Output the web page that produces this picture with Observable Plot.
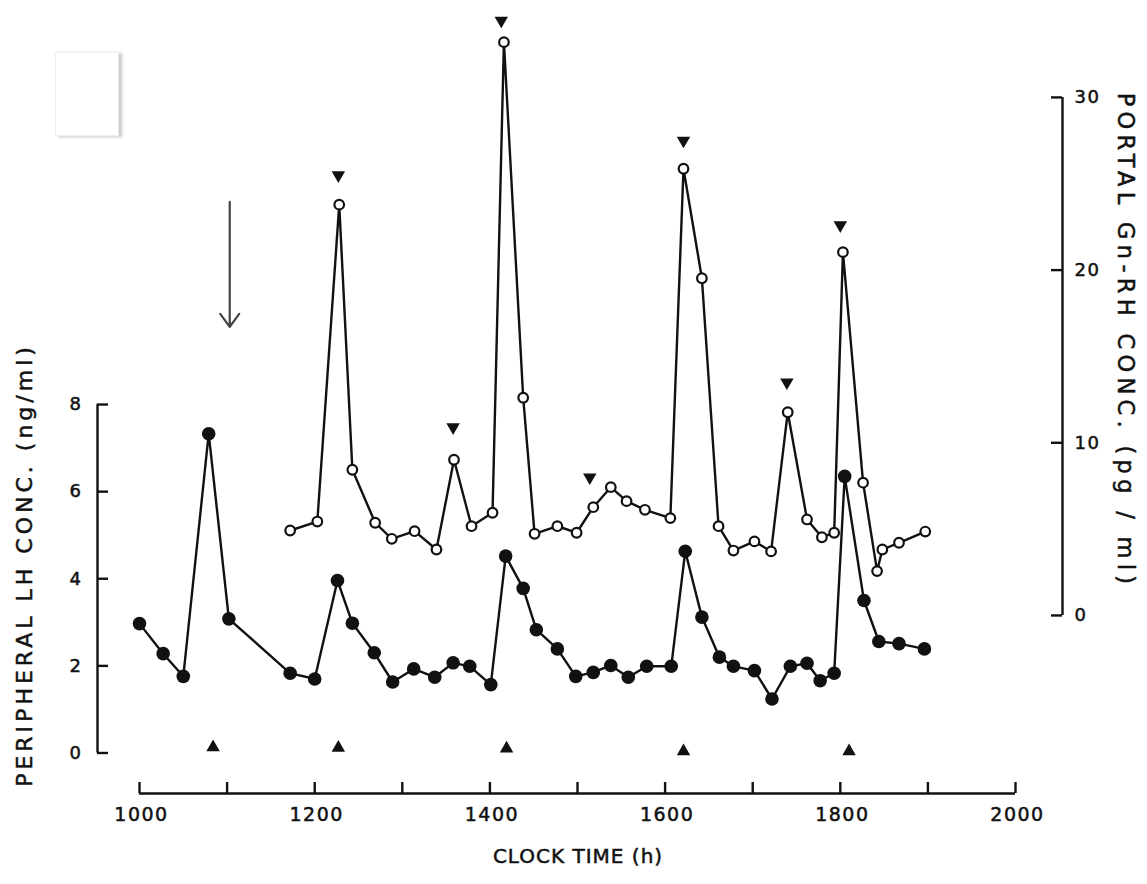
<!DOCTYPE html>
<html>
<head>
<meta charset="utf-8">
<script src="https://cdn.jsdelivr.net/npm/d3@7"></script>
<script src="https://cdn.jsdelivr.net/npm/@observablehq/plot@0.6"></script>
<style>
  html, body { margin: 0; padding: 0; background: #fff; }
  #chart { position: relative; width: 1147px; height: 884px; }
  #chart svg { display: block; }
  .ghost { position: absolute; left: 55px; top: 52px; width: 62px; height: 82px;
           border: 1px solid #f0f0f0; box-shadow: 3px 1px 3px rgba(0,0,0,0.22); background: #fff; }
</style>
</head>
<body>
<div id="chart"><div class="ghost"></div></div>
<script>
// ---- data (clock time in decimal hours) ----
const lhTime = [10.00, 10.27, 10.50, 10.79, 11.02, 11.72, 12.00, 12.26, 12.43, 12.68, 12.89, 13.13, 13.37, 13.58,
                13.77, 14.01, 14.18, 14.38, 14.53, 14.77, 14.98, 15.18, 15.38, 15.58, 15.79, 16.07, 16.23, 16.42,
                16.62, 16.78, 17.02, 17.22, 17.43, 17.62, 17.77, 17.93, 18.05, 18.27, 18.44, 18.67, 18.96];
const lhConc = [2.97, 2.28, 1.76, 7.33, 3.08, 1.83, 1.70, 3.96, 2.98, 2.30, 1.63, 1.93, 1.74, 2.07,
                1.99, 1.57, 4.52, 3.78, 2.83, 2.39, 1.76, 1.85, 2.01, 1.74, 1.99, 1.99, 4.63, 3.12,
                2.20, 1.99, 1.89, 1.24, 1.99, 2.06, 1.66, 1.83, 6.35, 3.50, 2.56, 2.51, 2.39];

const gnrhTime = [11.72, 12.03, 12.28, 12.43, 12.69, 12.88, 13.14, 13.39, 13.59, 13.79, 14.03, 14.16, 14.38,
                  14.51, 14.77, 14.99, 15.18, 15.38, 15.56, 15.77, 16.06, 16.21, 16.42, 16.61, 16.78, 17.02,
                  17.21, 17.40, 17.62, 17.79, 17.93, 18.03, 18.26, 18.42, 18.48, 18.67, 18.97];
const gnrhConc = [4.92, 5.44, 23.79, 8.44, 5.37, 4.44, 4.88, 3.82, 9.02, 5.17, 5.95, 33.20, 12.61,
                  4.73, 5.17, 4.79, 6.27, 7.43, 6.62, 6.12, 5.64, 25.87, 19.53, 5.17, 3.76, 4.29,
                  3.71, 11.77, 5.56, 4.53, 4.79, 21.04, 7.69, 2.57, 3.82, 4.21, 4.86];

// pulse markers
const lhPulseTime  = [10.84, 12.27, 14.19, 16.21, 18.10];
const lhPulseLevel = [0.13, 0.12, 0.10, 0.04, 0.04];           // ng/ml
const gnrhPulseTime  = [12.27, 13.58, 14.13, 15.14, 16.21, 17.39, 18.00];
const gnrhPulseLevel = [25.5, 10.9, 34.45, 8.0, 27.5, 13.5, 22.6]; // pg/ml

// arrow annotation (time, from, to in ng/ml units)
const arrowTime = [11.03];
const arrowFrom = [12.65];
const arrowTo   = [9.78];

// axes
const xTickHours  = [10, 11, 12, 13, 14, 15, 16, 17, 18, 19, 20];
const xLabelHours = [10, 12, 14, 16, 18, 20];
const lhTicks   = [0, 2, 4, 6, 8];
const gnrhTicks = [0, 10, 20, 30];

const titleX = "CLOCK TIME (h)";
const titleLeft = "PERIPHERAL LH CONC. (ng/ml)";
const titleRight = "PORTAL Gn-RH CONC. (pg / ml)";

// ---- scales ----
const xDomain = [9.5205, 20.5365];
const yDomain = [-0.930, 17.275];
const pxPerHour = 87.6, pxPerLH = 43.56;
const gnrhToLH = d3.scaleLinear().domain([0, 30]).range([3.157, 15.05]);
const tickX = 11 / pxPerHour, tickY = 11 / pxPerLH;

const lhData = lhTime.map((t, i) => ({t, v: lhConc[i]}));
const gnData = gnrhTime.map((t, i) => ({t, v: gnrhToLH(gnrhConc[i])}));
const lhPulse = lhPulseTime.map((t, i) => ({t, v: lhPulseLevel[i]}));
const gnPulse = gnrhPulseTime.map((t, i) => ({t, v: gnrhToLH(gnrhPulseLevel[i])}));
const arrows = arrowTime.map((t, i) => ({t, a: arrowFrom[i], b: arrowTo[i]}));

const ink = "#111";
const lw = 2.4;

const chart = Plot.plot({
  width: 1147, height: 884,
  marginLeft: 97, marginRight: 85, marginTop: 0, marginBottom: 91,
  x: {domain: xDomain},
  y: {domain: yDomain},
  style: {fontFamily: "'DejaVu Sans', sans-serif", background: "#fff", color: ink},
  marks: [
    // axis lines
    Plot.ruleY([yDomain[0]], {x1: xTickHours[0], x2: xTickHours[xTickHours.length - 1], stroke: ink, strokeWidth: lw}),
    Plot.ruleX([xDomain[0]], {y1: lhTicks[0], y2: lhTicks[lhTicks.length - 1], stroke: ink, strokeWidth: lw}),
    Plot.ruleX([xDomain[1]], {y1: gnrhToLH(gnrhTicks[0]), y2: gnrhToLH(gnrhTicks[gnrhTicks.length - 1]), stroke: ink, strokeWidth: lw}),
    // inward ticks
    Plot.ruleX(xTickHours, {y1: yDomain[0], y2: yDomain[0] + tickY, stroke: ink, strokeWidth: lw}),
    Plot.ruleY(lhTicks, {x1: xDomain[0], x2: xDomain[0] + tickX, stroke: ink, strokeWidth: lw}),
    Plot.ruleY(gnrhTicks.map(gnrhToLH), {x1: xDomain[1] - tickX, x2: xDomain[1], stroke: ink, strokeWidth: lw}),
    // tick labels
    Plot.axisX({anchor: "bottom", ticks: xLabelHours, tickFormat: d => String(d * 100), tickSize: 0, tickPadding: 14, fontSize: 19, dx: 2, label: null}),
    Plot.axisY({anchor: "left", ticks: lhTicks, tickFormat: d => String(d), tickSize: 0, tickPadding: 15, fontSize: 18, label: null}),
    Plot.axisY({anchor: "right", ticks: gnrhTicks.map(gnrhToLH), tickFormat: d => String(Math.round(gnrhToLH.invert(d))), tickSize: 0, tickPadding: 12, fontSize: 18, label: null}),
    // titles
    Plot.text([titleX], {text: d => d, frameAnchor: "bottom", textAnchor: "middle", dx: -2, dy: 69, fontSize: 20, fill: ink}),
    Plot.text([titleLeft], {text: d => d, frameAnchor: "left", textAnchor: "middle", dx: -73, dy: 168, rotate: -90, fontSize: 22, fill: ink}),
    Plot.text([titleRight], {text: d => d, frameAnchor: "right", textAnchor: "middle", dx: 63, dy: -56, rotate: 90, fontSize: 22.5, fill: ink}),
    // arrow
    Plot.arrow(arrows, {x1: "t", x2: "t", y1: "a", y2: "b", stroke: "#444", strokeWidth: 2.2, headLength: 11, headAngle: 72}),
    // series
    Plot.line(lhData, {x: "t", y: "v", stroke: ink, strokeWidth: lw}),
    Plot.line(gnData, {x: "t", y: "v", stroke: ink, strokeWidth: lw}),
    Plot.dot(lhData, {x: "t", y: "v", r: 6.8, fill: ink, stroke: "none"}),
    Plot.dot(gnData, {x: "t", y: "v", r: 4.8, fill: "#fff", stroke: ink, strokeWidth: 2.2}),
    // pulse markers
    Plot.dot(lhPulse, {x: "t", y: "v", symbol: "triangle", r: 5, fill: ink, stroke: "none"}),
    Plot.dot(gnPulse, {x: "t", y: "v", symbol: "triangle", rotate: 180, r: 5, fill: ink, stroke: "none"})
  ]
});

// typographic touches: letter spacing and a slightly heavier stroke on all text
d3.select(chart).selectAll("text").each(function () {
  const t = this.textContent;
  const s = this.style;
  s.stroke = ink; s.strokeWidth = "0.5px"; s.paintOrder = "stroke";
  if (t === titleLeft) s.letterSpacing = "4px";
  else if (t === titleRight) s.letterSpacing = "5.3px";
  else if (t === titleX) s.letterSpacing = "1px";
  else s.letterSpacing = "1.5px";
});
document.getElementById("chart").prepend(chart);
</script>
</body>
</html>
